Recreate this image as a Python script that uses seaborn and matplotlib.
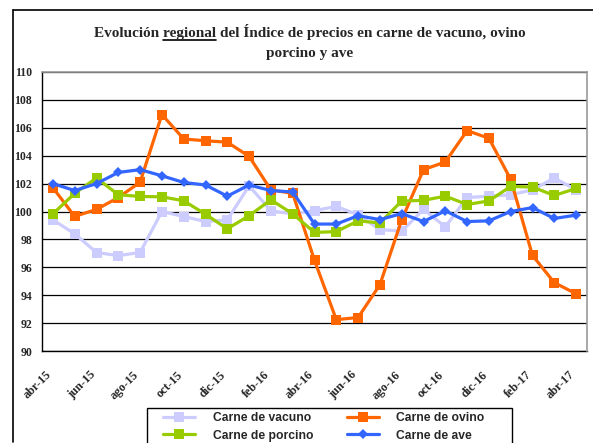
import pandas as pd
import seaborn as sns
import matplotlib.pyplot as plt
from matplotlib.lines import Line2D
from matplotlib.patches import Rectangle
from matplotlib.transforms import ScaledTranslation, blended_transform_factory

# datos
meses = ["abr-15", "may-15", "jun-15", "jul-15", "ago-15", "sep-15", "oct-15", "nov-15",
         "dic-15", "ene-16", "feb-16", "mar-16", "abr-16", "may-16", "jun-16", "jul-16",
         "ago-16", "sep-16", "oct-16", "nov-16", "dic-16", "ene-17", "feb-17", "mar-17", "abr-17"]
vacuno = [99.4, 98.4, 97.06, 96.84, 97.06, 100.0, 99.64, 99.28, 99.4, 101.84, 100.05, 99.83,
          100.07, 100.36, 99.76, 98.7, 98.6, 100.15, 98.9, 101.0, 101.1, 101.2, 101.55, 102.4, 101.55]
ovino = [101.7, 99.65, 100.15, 101.0, 102.1, 106.95, 105.2, 105.07, 104.97, 103.95, 101.55, 101.3,
         96.5, 92.25, 92.4, 94.75, 99.4, 103.0, 103.55, 105.8, 105.25, 102.3, 96.85, 94.9, 94.1]
porcino = [99.83, 101.3, 102.4, 101.2, 101.08, 101.05, 100.77, 99.8, 98.76, 99.7, 100.84, 99.83,
           98.5, 98.56, 99.33, 99.18, 100.75, 100.8, 101.1, 100.5, 100.76, 101.8, 101.75, 101.15, 101.65]
ave = [102.0, 101.5, 102.0, 102.8, 103.0, 102.56, 102.08, 101.9, 101.1, 101.9, 101.5, 101.4,
       99.1, 99.1, 99.7, 99.42, 99.85, 99.28, 100.05, 99.28, 99.33, 100.0, 100.28, 99.5, 99.74]

df = pd.DataFrame({"pos": range(len(meses)), "mes": meses,
                   "Carne de vacuno": vacuno, "Carne de ovino": ovino,
                   "Carne de porcino": porcino, "Carne de ave": ave})

series = ["Carne de vacuno", "Carne de ovino", "Carne de porcino", "Carne de ave"]
colores = {"Carne de vacuno": "#CCCCFF", "Carne de ovino": "#FF6600",
           "Carne de porcino": "#99CC00", "Carne de ave": "#3366FF"}
marcas = {"Carne de vacuno": ("s", 6.5), "Carne de ovino": ("s", 6.5),
          "Carne de porcino": ("s", 6.5), "Carne de ave": ("D", 5)}

sns.set_style("white")
plt.rcParams["font.family"] = ["Liberation Serif", "DejaVu Serif"]

W, H = 593, 443
fig = plt.figure(figsize=(W / 100, H / 100), dpi=100)
ax = fig.add_axes([42 / W, 1 - 351 / H, 545 / W, 279 / H])

for s in series:
    m, ms = marcas[s]
    sns.lineplot(data=df, x="pos", y=s, color=colores[s], marker=m, markersize=ms,
                 markeredgewidth=0, linewidth=2.3, ax=ax)

# ejes estilo excel
ax.set_xlim(-0.5, len(meses) - 0.5)
ax.set_ylim(90, 110)
ax.set_yticks(range(90, 111, 2))
ax.set_yticklabels([str(v) for v in range(90, 111, 2)], fontsize=8.5, fontweight="bold")
ax.set_xticks([i - 0.5 for i in range(len(meses) + 1)])
ax.set_xticklabels([])
ax.tick_params(axis="x", length=3.5, width=1, direction="out", color="black")
ax.tick_params(axis="y", length=3, width=1, direction="out", color="black", pad=4)

# etiquetas del eje x cada dos meses, giradas como en excel
trans = blended_transform_factory(ax.transData, ax.transAxes) + \
    ScaledTranslation(-0.03, -0.22, fig.dpi_scale_trans)
for i in range(0, len(meses), 2):
    ax.text(i, 0, meses[i], transform=trans, rotation=45, ha="right", va="center",
            rotation_mode="anchor", fontsize=8.7, fontweight="bold")

ax.set_xlabel("")
ax.set_ylabel("")
ax.grid(axis="y", color="black", linewidth=0.9)
for lado in ["left", "bottom"]:
    ax.spines[lado].set_color("black")
    ax.spines[lado].set_linewidth(1)
for lado in ["top", "right"]:
    ax.spines[lado].set_color("#999999")
    ax.spines[lado].set_linewidth(1.2)
    ax.spines[lado].set_zorder(5)

# titulo con "regional" subrayado
tfont = dict(fontsize=11, fontweight="bold", family=["Liberation Serif", "DejaVu Serif"])
linea1 = "Evolución regional del Índice de precios en carne de vacuno, ovino"
cx = 310 / W
t1 = fig.text(cx, 1 - 37 / H, linea1, ha="center", va="baseline", **tfont)
fig.text(cx, 1 - 57 / H, "porcino y ave", ha="center", va="baseline", **tfont)
fig.canvas.draw()
rend = fig.canvas.get_renderer()
bb = t1.get_window_extent(rend)
a = fig.text(0, 0, "Evolución ", **tfont)
b = fig.text(0, 0, "Evolución regional", **tfont)
xa = bb.x0 + a.get_window_extent(rend).width
xb = bb.x0 + b.get_window_extent(rend).width
a.remove()
b.remove()
yu = H - 39.5
fig.add_artist(Line2D([xa / W, xb / W], [yu / H, yu / H], color="black", lw=1.2,
                      transform=fig.transFigure))

# borde exterior del grafico
fig.add_artist(Line2D([13 / W, 13 / W], [1 - 442 / H, 1 - 10 / H], color="black", lw=1.2,
                      transform=fig.transFigure))
fig.add_artist(Line2D([13 / W, 1], [1 - 10 / H, 1 - 10 / H], color="black", lw=1.2,
                      transform=fig.transFigure))

# leyenda (orden por columnas para que quede como en excel)
orden_leyenda = ["Carne de vacuno", "Carne de porcino", "Carne de ovino", "Carne de ave"]
handles = [Line2D([], [], color=colores[s], marker=marcas[s][0], markersize=marcas[s][1],
                  markeredgewidth=0, lw=2.3) for s in orden_leyenda]
fig.legend(handles, orden_leyenda, ncol=2, loc="upper left",
           bbox_to_anchor=(158 / W, 1 - 407 / H), borderaxespad=0, frameon=False,
           handlelength=2.65, handletextpad=1.45, labelspacing=0.42, borderpad=0.45,
           columnspacing=2.75,
           prop={"family": "Liberation Sans", "weight": "bold", "size": 8.7})
fig.add_artist(Rectangle((147 / W, -0.05), 365 / W, 1 - 408 / H + 0.05, fill=False,
                         edgecolor="black", lw=1, transform=fig.transFigure))

plt.savefig("out.png", dpi=100)
